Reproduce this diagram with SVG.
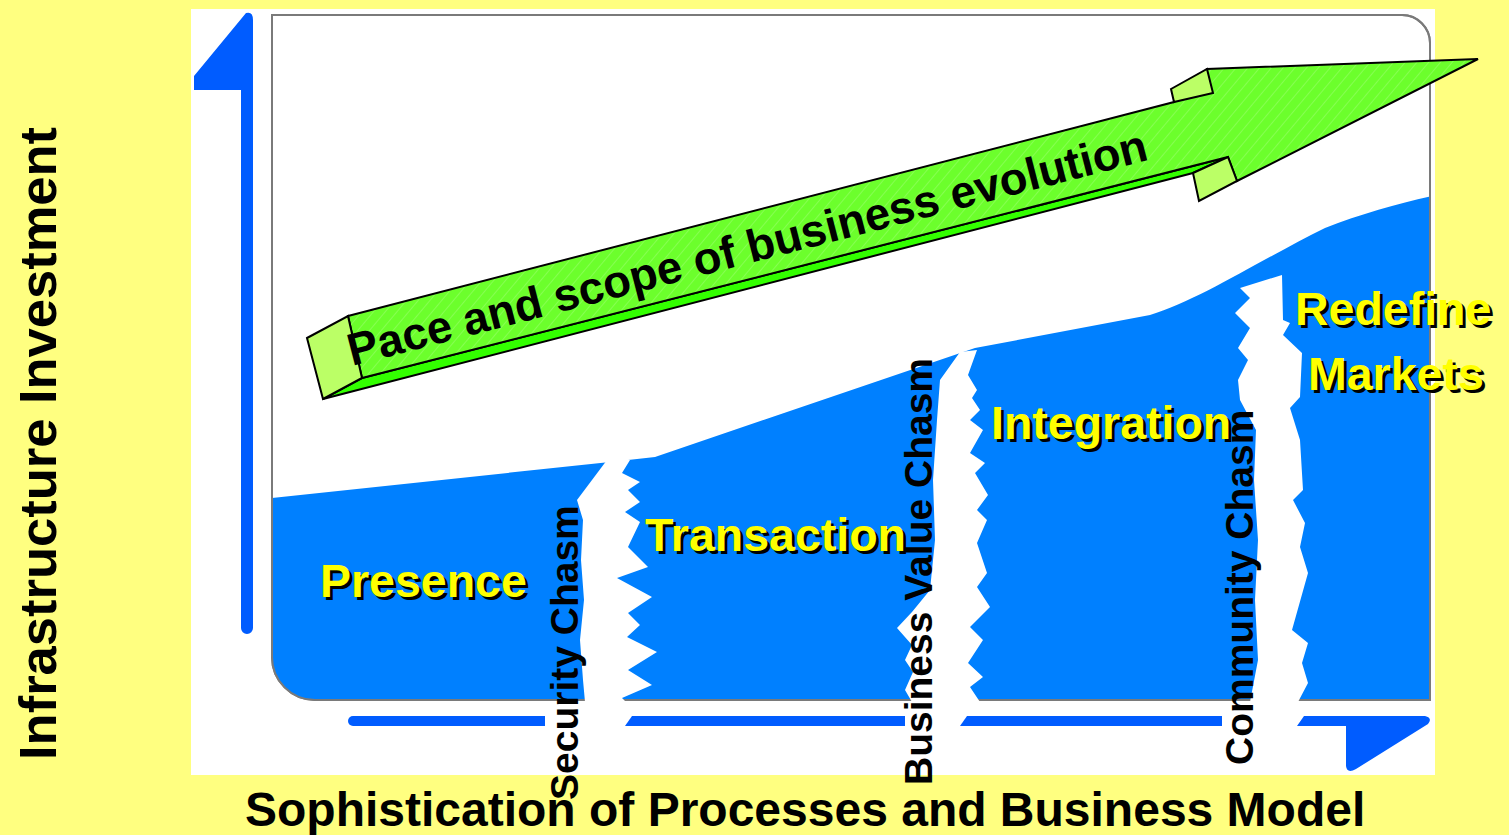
<svg xmlns="http://www.w3.org/2000/svg" width="1509" height="835" viewBox="0 0 1509 835">
<defs>
<style>
.lbl{font-family:"Liberation Sans",Arial,sans-serif;font-weight:bold;font-size:46.5px}
.lbl .sh{fill:#000}
.lbl .fg{fill:#FFFF00}
.vt{font-family:"Liberation Sans",Arial,sans-serif;font-weight:bold;font-size:39px;fill:#000}
.axt{font-family:"Liberation Sans",Arial,sans-serif;font-weight:bold;fill:#000}
.axis{fill:#005CFF}
.chasm{fill:#FFFFFF}
.gs{stroke:#000;stroke-width:2;stroke-linejoin:miter}
</style>
<pattern id="hatch" width="9" height="9" patternUnits="userSpaceOnUse" patternTransform="rotate(40)">
<rect width="9" height="9" fill="#6CFF2C"/>
<line x1="0" y1="0" x2="0" y2="9" stroke="#C8FFA8" stroke-width="1" stroke-opacity="0.6"/>
</pattern>
<clipPath id="frameClip">
<path d="M272,15 H1402 A28,28 0 0 1 1430,43 V700 H315 A43,43 0 0 1 272,657 Z"/>
</clipPath>
</defs>
<rect x="0" y="0" width="1509" height="835" fill="#FFFF80"/>
<rect x="191" y="9" width="1244" height="766" fill="#FFFFFF"/>

<g id="chart-area">
<path d="M272,15 H1402 A28,28 0 0 1 1430,43 V700 H315 A43,43 0 0 1 272,657 Z" fill="#FFFFFF" stroke="#7A7A7A" stroke-width="2"/>
<g clip-path="url(#frameClip)">
<path d="M272,498 L610,462 L655,457 L975,348 L1150,315 C1200,300 1260,260 1325,228 C1360,214 1400,203 1432,196 V702 H270 Z" fill="#0080FF"/>
</g>
<path d="M272,15 H1402 A28,28 0 0 1 1430,43 V700 H315 A43,43 0 0 1 272,657 Z" fill="none" stroke="#7A7A7A" stroke-width="2"/>
</g>

<g id="axes">
<path class="axis" d="M241,628 A6,6 0 0 0 253,628 V20 Q253,11 246,13 L194,76 V90 H241 Z"/>
<path class="axis" d="M353,716 H545 V726 H353 A5,5 0 0 1 353,716 Z"/>
<path class="axis" d="M632,716 H905 V726 H625 Z"/>
<path class="axis" d="M967,716 H1222 V726 H960 Z"/>
<path class="axis" d="M1304,716 H1425 Q1433,718 1428,724 L1356,769 Q1347,774 1346,766 V726 H1297 Z"/>
</g>

<g id="chasm-security">
<polygon class="chasm" points="607,460 630,460 622,473 640,482 628,490 640,502 625,512 640,522 628,547 648,567 617,578 652,597 628,613 640,625 627,637 657,652 628,670 652,685 622,698 626,702 585,702 583,680 580,640 584,600 581,560 583,520 577,500"/>
</g>
<g id="chasm-business-value">
<polygon class="chasm" points="960,352 977,350 968,375 977,390 972,398 980,410 970,420 983,430 970,453 985,463 975,473 988,495 977,510 987,520 977,543 987,573 977,587 990,607 970,627 983,640 968,663 983,677 970,687 980,702 912,702 905,690 913,672 905,660 912,645 897,628 912,612 930,590 935,540 933,480 937,420 940,380"/>
</g>
<g id="chasm-community">
<polygon class="chasm" points="1240,288 1282,275 1283,320 1290,323 1283,335 1302,353 1300,397 1290,408 1300,440 1303,490 1293,500 1305,523 1300,547 1308,573 1292,630 1308,643 1302,663 1308,683 1298,702 1250,702 1258,660 1255,600 1258,540 1254,480 1256,430 1240,400 1238,380 1248,360 1238,348 1250,328 1235,313 1250,298"/>
</g>

<g id="pace-arrow">
<polygon points="323,399 362,378 1228,157 1193,173" fill="#33FF00" class="gs"/>
<polygon points="348,316 1174,102 1207,69 1478,59 1237,181 1228,157 362,378" fill="url(#hatch)" class="gs"/>
<polygon points="307,338 348,316 362,378 323,399" fill="#BBFF66" class="gs"/>
<polygon points="1171,89 1207,69 1213,93 1174,102" fill="#BBFF66" class="gs"/>
<polygon points="1193,173 1228,157 1237,181 1199,201" fill="#BBFF66" class="gs"/>
<text transform="translate(352,366) rotate(-14.5)" class="axt" font-size="45.5">Pace and scope of business evolution</text>
</g>

<g id="label-presence" class="lbl">
<text class="sh" x="323" y="600">Presence</text>
<text class="fg" x="320" y="597">Presence</text>
</g>
<g id="label-transaction" class="lbl">
<text class="sh" x="648" y="554">Transaction</text>
<text class="fg" x="645" y="551">Transaction</text>
</g>
<g id="label-integration" class="lbl">
<text class="sh" x="994" y="442">Integration</text>
<text class="fg" x="991" y="439">Integration</text>
</g>
<g id="label-redefine" class="lbl">
<text class="sh" x="1298" y="328">Redefine</text>
<text class="fg" x="1295" y="325">Redefine</text>
<text class="sh" x="1311" y="393">Markets</text>
<text class="fg" x="1308" y="390">Markets</text>
</g>

<g id="chasm-labels">
<text class="vt" transform="translate(578,800) rotate(-90)">Security Chasm</text>
<text class="vt" transform="translate(932,785) rotate(-90)">Business Value Chasm</text>
<text class="vt" transform="translate(1253,765) rotate(-90)">Community Chasm</text>
</g>

<g id="axis-labels">
<text class="axt" font-size="52.5" transform="translate(56,760) rotate(-90)">Infrastructure Investment</text>
<text class="axt" font-size="48" x="245" y="826">Sophistication of Processes and Business Model</text>
</g>
</svg>
